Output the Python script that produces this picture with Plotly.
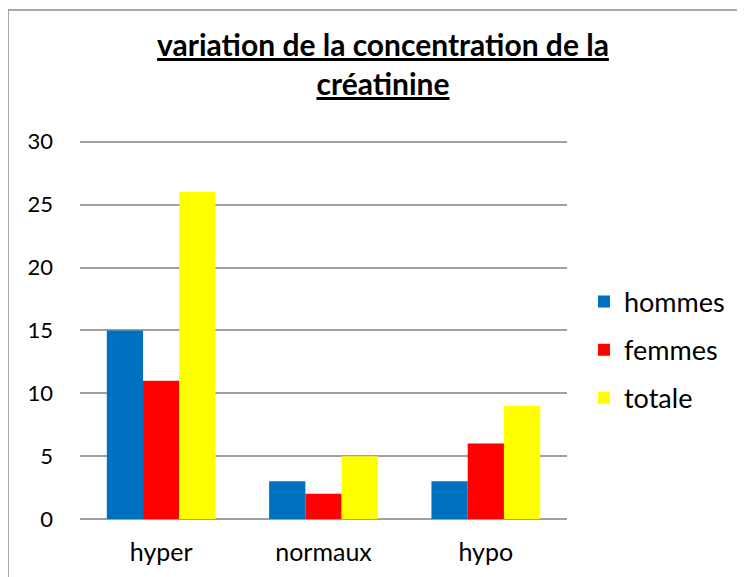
import plotly.graph_objects as go

# Data
categories = ['hyper', 'normaux', 'hypo']
hommes = [15, 3, 3]
femmes = [11, 2, 6]
totale = [26, 5, 9]

COLOR_H = '#0070C0'
COLOR_F = '#FF0000'
COLOR_T = '#FFFF00'
GRID = '#A0A0A0'
FONT = 'Lato, Open Sans, sans-serif'

# page has an 8px body margin, so work in figure pixels
W, H = 737, 569
L, R, T, B = 72, 559, 130, 511
YMAX = 30.3

def px_x(x):
    return (x - L) / (R - L)

def px_y(y):
    return (B - y) / (B - T)

fig = go.Figure()
for name, vals, col in [('hommes', hommes, COLOR_H), ('femmes', femmes, COLOR_F), ('totale', totale, COLOR_T)]:
    fig.add_trace(go.Bar(x=categories, y=vals, name=name, marker=dict(color=col, line=dict(width=0)),
                         legendgroup=name))

border = dict(color='#8C8C8C', width=1.5)

fig.update_layout(
    width=W, height=H,
    margin=dict(l=L, r=W - R, t=T, b=H - B, pad=0),
    paper_bgcolor='white', plot_bgcolor='white',
    font=dict(family=FONT, size=20, color='#000000'),
    title=dict(text='<u><b>variation de la concentration de la</b></u><br><u><b>créatinine</b></u>',
               x=375 / W, xanchor='center', y=1 - 48 / H, yanchor='top',
               font=dict(size=30, family=FONT)),
    barmode='group', bargap=0.33, bargroupgap=0,
    showlegend=True,
    legend=dict(x=px_x(576), xanchor='left', y=px_y(342), yanchor='middle',
                font=dict(size=27), tracegroupgap=10, bgcolor='rgba(0,0,0,0)'),
    xaxis=dict(showgrid=False, showline=False, ticks='', ticklabelstandoff=16,
               tickfont=dict(size=25)),
    yaxis=dict(range=[0, YMAX], tickvals=[0, 5, 10, 15, 20, 25, 30], showgrid=True,
               gridcolor=GRID, gridwidth=1.5,
               zeroline=True, zerolinecolor=GRID, zerolinewidth=1.5,
               showline=False, ticks='', ticklabelstandoff=26, tickfont=dict(size=22)),
    shapes=[
        dict(type='line', xref='paper', yref='paper', x0=px_x(0), x1=px_x(733), y0=px_y(2), y1=px_y(2),
             line=border),
        dict(type='line', xref='paper', yref='paper', x0=px_x(0), x1=px_x(0), y0=px_y(2), y1=px_y(580),
             line=border),
        dict(type='line', xref='paper', yref='paper', x0=px_x(733), x1=px_x(733), y0=px_y(2), y1=px_y(580),
             line=border),
    ],
)

fig.write_html("out.html")
